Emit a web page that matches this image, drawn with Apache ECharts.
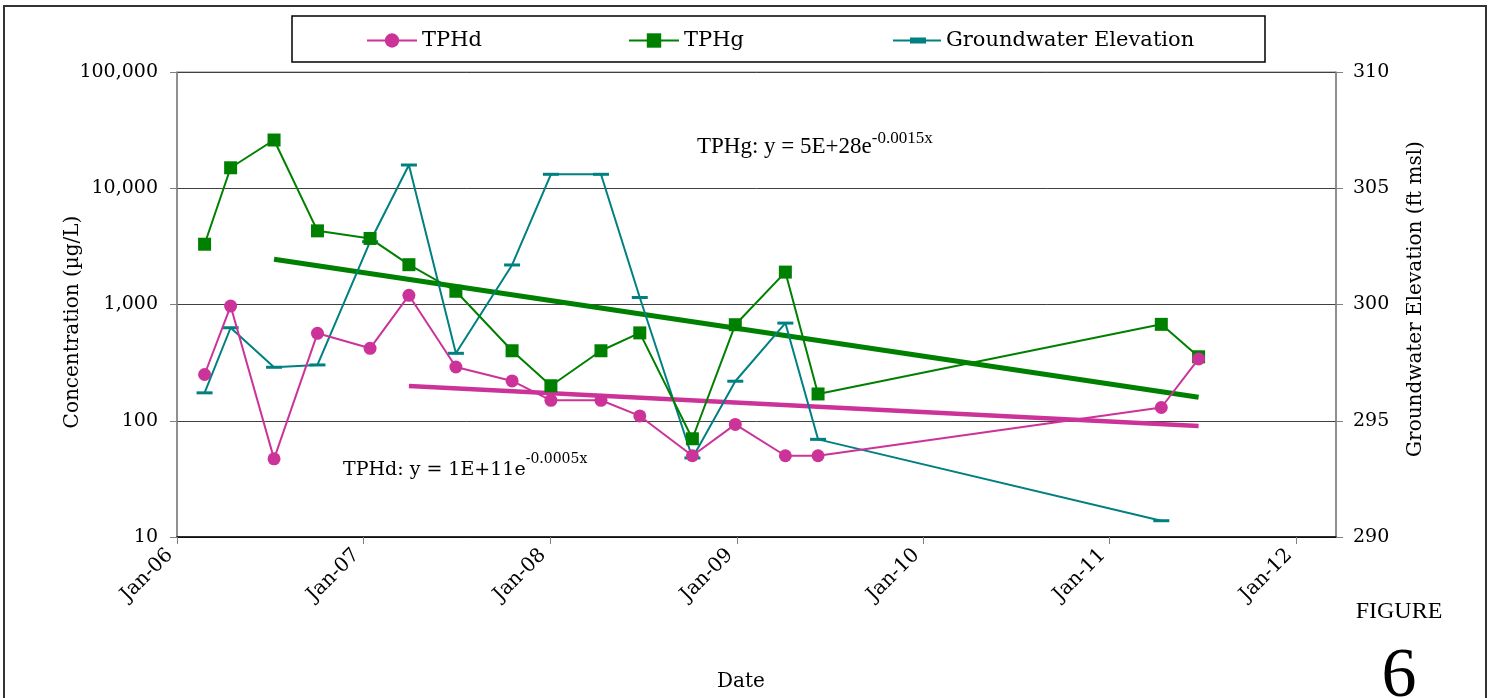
<!DOCTYPE html>
<html>
<head>
<meta charset="utf-8">
<script src="https://cdn.jsdelivr.net/npm/echarts@6/dist/echarts.min.js"></script>
<style>
html,body{margin:0;padding:0;background:#fff;}
#chart{width:1492px;height:698px;}
</style>
</head>
<body>
<div id="chart"></div>
<script>
// ---- data ----
var sampleDates = ['2006-02-24','2006-04-16','2006-07-10','2006-10-03','2007-01-14','2007-03-31','2007-07-01','2007-10-19','2008-01-03','2008-04-10','2008-06-25','2008-10-06','2008-12-29','2009-04-06','2009-06-09','2011-04-12','2011-06-24'];
var tphd = [250, 970, 47, 565, 420, 1200, 290, 220, 150, 150, 110, 50, 93, 50, 50, 130, 340];
var tphg = [3300, 15000, 26000, 4300, 3700, 2200, 1300, 400, 200, 400, 570, 70, 670, 1900, 170, 675, 355];
var gwDates = ['2006-02-24','2006-04-16','2006-07-10','2006-10-03','2007-01-14','2007-03-31','2007-07-01','2007-10-19','2008-01-03','2008-04-10','2008-06-25','2008-10-06','2008-12-29','2009-04-06','2009-06-09','2011-04-12'];
var gwElev = [296.2, 299.0, 297.3, 297.4, 302.7, 306.0, 297.9, 301.7, 305.6, 305.6, 300.3, 293.4, 296.7, 299.2, 294.2, 290.7];
var tphgTrendDates = ['2006-07-10','2011-06-24'];
var tphgTrend = [2450, 159];
var tphdTrendDates = ['2007-03-31','2011-06-24'];
var tphdTrend = [199, 90];
var yearTickDates = ['2006-01-01','2007-01-01','2008-01-01','2009-01-01','2010-01-01','2011-01-01','2012-01-01'];
var xMinDate = '2006-01-01';
var xMaxDate = '2012-03-19';
var monthNames = ['Jan','Feb','Mar','Apr','May','Jun','Jul','Aug','Sep','Oct','Nov','Dec'];

function ts(s){ var p = s.split('-'); return Date.UTC(+p[0], +p[1]-1, +p[2]); }
function pairs(dates, vals){ return dates.map(function(d,i){ return [ts(d), vals[i]]; }); }
function commas(v){ return String(Math.round(v)).replace(/\B(?=(\d{3})+(?!\d))/g, ','); }

var SERIF = 'DejaVu Serif';
var TIMES = 'Liberation Serif';
var MAG = '#CC3399', GRN = '#008000', TEAL = '#008080';
var gwSymbol = 'path://M0,0 L16,0 L16,3 L0,3 Z';
// legend icon for groundwater: line with the short bar marker in the middle
var gwLegendIcon = 'path://M0,8 L17,8 L17,6 L33,6 L33,8 L48,8 L48,10 L33,10 L33,12 L17,12 L17,10 L0,10 Z';

var chart = echarts.init(document.getElementById('chart'), null, {renderer:'canvas'});
var yearTicks = yearTickDates.map(ts);

var legendBase = {
  top: 30, itemWidth: 50, itemHeight: 18, padding: 0, selectedMode: false,
  textStyle: {fontFamily: SERIF, fontSize: 21, color: '#000'}
};

var option = {
  animation: false,
  backgroundColor: '#fff',
  grid: {left: 177, right: 156, top: 72, bottom: 161, show: true, borderColor: '#808080', borderWidth: 1, containLabel: false},
  legend: [
    Object.assign({}, legendBase, {left: 366, data: ['TPHd']}),
    Object.assign({}, legendBase, {left: 628, data: ['TPHg']}),
    Object.assign({}, legendBase, {left: 893, itemWidth: 48, data: [{name: 'Groundwater Elevation', icon: gwLegendIcon, itemStyle: {color: TEAL}}]})
  ],
  xAxis: {
    type: 'value', min: ts(xMinDate), max: ts(xMaxDate), scale: true,
    axisLine: {show: true, lineStyle: {color: '#000', width: 1.5}},
    axisTick: {show: true, customValues: yearTicks, length: 7, lineStyle: {color: '#808080', width: 1}},
    axisLabel: {
      show: true, customValues: yearTicks, rotate: 45, margin: 8, padding: [0, 10, 0, 0],
      showMinLabel: true, showMaxLabel: true,
      fontFamily: SERIF, fontSize: 20, color: '#000',
      formatter: function(v){ var d = new Date(v); return monthNames[d.getUTCMonth()] + '-' + String(d.getUTCFullYear()).slice(2); }
    },
    splitLine: {show: false}
  },
  yAxis: [
    {
      type: 'log', logBase: 10, min: 10, max: 100000, position: 'left',
      axisLine: {show: true, lineStyle: {color: '#808080', width: 1.5}},
      axisTick: {show: true, length: 7, lineStyle: {color: '#808080'}},
      axisLabel: {margin: 19, fontFamily: SERIF, fontSize: 19, color: '#000', formatter: function(v){ return commas(v); }},
      splitLine: {show: true, lineStyle: {color: '#404040', width: 1}},
      minorTick: {show: false}, minorSplitLine: {show: false}
    },
    {
      type: 'value', min: 290, max: 310, interval: 5, position: 'right',
      axisLine: {show: true, lineStyle: {color: '#808080', width: 1.5}},
      axisTick: {show: true, length: 7, lineStyle: {color: '#808080'}},
      axisLabel: {margin: 17, fontFamily: SERIF, fontSize: 19, color: '#000'},
      splitLine: {show: false}
    }
  ],
  series: [
    {
      name: 'TPHg trend', type: 'line', yAxisIndex: 0, data: pairs(tphgTrendDates, tphgTrend),
      symbol: 'none', silent: true, z: 1,
      lineStyle: {color: GRN, width: 5}
    },
    {
      name: 'TPHd trend', type: 'line', yAxisIndex: 0, data: pairs(tphdTrendDates, tphdTrend),
      symbol: 'none', silent: true, z: 1,
      lineStyle: {color: MAG, width: 4.5}
    },
    {
      name: 'Groundwater Elevation', type: 'line', yAxisIndex: 1, data: pairs(gwDates, gwElev),
      symbol: gwSymbol, symbolSize: 16, symbolKeepAspect: true, z: 2,
      lineStyle: {color: TEAL, width: 2}, itemStyle: {color: TEAL}
    },
    {
      name: 'TPHg', type: 'line', yAxisIndex: 0, data: pairs(sampleDates, tphg),
      symbol: 'rect', symbolSize: 13, z: 3,
      lineStyle: {color: GRN, width: 2}, itemStyle: {color: GRN}
    },
    {
      name: 'TPHd', type: 'line', yAxisIndex: 0, data: pairs(sampleDates, tphd),
      symbol: 'circle', symbolSize: 13, z: 4,
      lineStyle: {color: MAG, width: 2}, itemStyle: {color: MAG}
    }
  ],
  graphic: [
    {type: 'rect', silent: true, z: -10, shape: {x: 4, y: 6, width: 1482, height: 700}, style: {fill: 'none', stroke: '#333', lineWidth: 2}},
    {type: 'rect', silent: true, shape: {x: 292, y: 16, width: 973, height: 46}, style: {fill: '#fff', stroke: '#000', lineWidth: 1.5}, z: -5},
    {type: 'text', silent: true, x: 73, y: 322, rotation: Math.PI/2,
      style: {text: 'Concentration (µg/L)', fontFamily: SERIF, fontSize: 20, fill: '#000', align: 'center', verticalAlign: 'middle'}},
    {type: 'text', silent: true, x: 1416, y: 299, rotation: Math.PI/2,
      style: {text: 'Groundwater Elevation (ft msl)', fontFamily: SERIF, fontSize: 20, fill: '#000', align: 'center', verticalAlign: 'middle'}},
    {type: 'text', silent: true, x: 741, y: 682,
      style: {text: 'Date', fontFamily: SERIF, fontSize: 20, fill: '#000', align: 'center', verticalAlign: 'middle'}},
    {type: 'text', silent: true, x: 1399, y: 612,
      style: {text: 'FIGURE', fontFamily: TIMES, fontSize: 24, fill: '#000', align: 'center', verticalAlign: 'middle'}},
    {type: 'text', silent: true, x: 1399, y: 678,
      style: {text: '6', fontFamily: TIMES, fontSize: 70, fill: '#000', align: 'center', verticalAlign: 'middle'}},
    {type: 'text', silent: true, x: 697, y: 130,
      style: {text: '{a|TPHg: y = 5E+28e}{b|-0.0015x}', fill: '#000',
        rich: {a: {fontFamily: TIMES, fontSize: 23, lineHeight: 28, verticalAlign: 'bottom'},
               b: {fontFamily: TIMES, fontSize: 17, lineHeight: 18, verticalAlign: 'top'}}}},
    {type: 'text', silent: true, x: 343, y: 452,
      style: {text: '{a|TPHd: y = 1E+11e}{b|-0.0005x}', fill: '#000',
        rich: {a: {fontFamily: SERIF, fontSize: 19, lineHeight: 28, verticalAlign: 'bottom'},
               b: {fontFamily: SERIF, fontSize: 14, lineHeight: 16, verticalAlign: 'top'}}}}
  ]
};
chart.setOption(option);
</script>
</body>
</html>
